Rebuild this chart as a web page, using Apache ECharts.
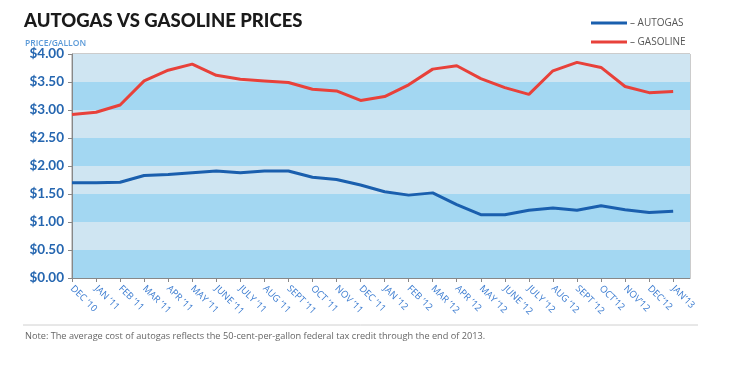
<!DOCTYPE html>
<html><head><meta charset="utf-8">
<script src="https://cdn.jsdelivr.net/npm/echarts@6/dist/echarts.min.js"></script>
<style>html,body{margin:0;padding:0;background:#fff}#c{width:736px;height:365px}</style>
</head><body><div id="c"></div>
<script>
const categories = ["DEC ’10","JAN ’11","FEB ’11","MAR ’11","APR ’11","MAY ’11","JUNE ’11","JULY ’11","AUG ’11","SEPT ’11","OCT ’11","NOV ’11","DEC ’11","JAN ’12","FEB ’12","MAR ’12","APR ’12","MAY ’12","JUNE ’12","JULY ’12","AUG ’12","SEPT ’12","OCT’12","NOV’12","DEC’12","JAN’13"];
const autogas = [1.70,1.70,1.71,1.83,1.85,1.88,1.91,1.88,1.91,1.91,1.80,1.76,1.66,1.54,1.48,1.52,1.31,1.13,1.13,1.21,1.25,1.21,1.29,1.22,1.17,1.19];
const gasoline = [2.92,2.96,3.09,3.52,3.71,3.82,3.62,3.55,3.52,3.49,3.37,3.34,3.17,3.24,3.45,3.73,3.79,3.56,3.40,3.28,3.70,3.85,3.76,3.42,3.31,3.33];
const yTicks = ["$0.00","$0.50","$1.00","$1.50","$2.00","$2.50","$3.00","$3.50","$4.00"];

const chart = echarts.init(document.getElementById('c'));
const toPts = arr => arr.map((v,i)=>[i,v]);
chart.setOption({
  animation:false,
  title:{text:'AUTOGAS VS GASOLINE PRICES',left:19,top:7,textStyle:{fontFamily:'Lato',fontWeight:900,fontSize:18.5,color:'#1a1a1a'}},
  legend:{orient:'vertical',left:586,top:13,itemWidth:36,itemHeight:3,itemGap:9,icon:'rect',
    data:['AUTOGAS','GASOLINE'],formatter:n=>'– '+n,
    textStyle:{fontFamily:'Open Sans',fontSize:10,color:'#555',padding:[0,0,0,-2]}},
  graphic:[
    {type:'text',left:25,top:39,style:{text:'PRICE/GALLON',fontFamily:'Open Sans',fontSize:8.5,fontWeight:600,fill:'#5b9ad8'}},
    {type:'line',shape:{x1:23,y1:325,x2:698,y2:325},style:{stroke:'#d0d0d0',lineWidth:1}},
    {type:'text',left:25,top:332,style:{text:'Note: The average cost of autogas reflects the 50-cent-per-gallon federal tax credit through the end of 2013.',fontFamily:'Open Sans',fontSize:9.2,fill:'#666'}}
  ],
  grid:{left:72,top:54,right:46,bottom:87,show:true,borderColor:'#999',borderWidth:1,backgroundColor:'transparent'},
  xAxis:{type:'value',min:0,max:25.7,interval:1,
    axisLine:{show:true,lineStyle:{color:'#888'}},
    axisTick:{show:true,length:4,lineStyle:{color:'#888'}},
    splitLine:{show:false},
    axisLabel:{rotate:-45,margin:9,fontFamily:'Open Sans',fontSize:9.5,color:'#3a7bd0',
      formatter:v=>categories[v]||'',showMaxLabel:false}},
  yAxis:{type:'value',min:0,max:4,interval:0.5,
    axisLine:{show:true,lineStyle:{color:'#888'}},
    axisTick:{show:true,length:4,lineStyle:{color:'#888'}},
    splitLine:{show:false},
    splitArea:{show:true,areaStyle:{color:['#a3d7f2','#cfe5f2']}},
    axisLabel:{margin:8,fontFamily:'Lato',fontWeight:'bold',fontSize:13.5,color:'#2566b0',
      formatter:v=>yTicks[Math.round(v/0.5)]}},
  series:[
    {name:'AUTOGAS',type:'line',data:toPts(autogas),symbol:'none',lineStyle:{width:3,color:'#1a5fae'},itemStyle:{color:'#1a5fae'}},
    {name:'GASOLINE',type:'line',data:toPts(gasoline),symbol:'none',lineStyle:{width:3,color:'#e8413a'},itemStyle:{color:'#e8413a'}}
  ]
});
</script></body></html>
